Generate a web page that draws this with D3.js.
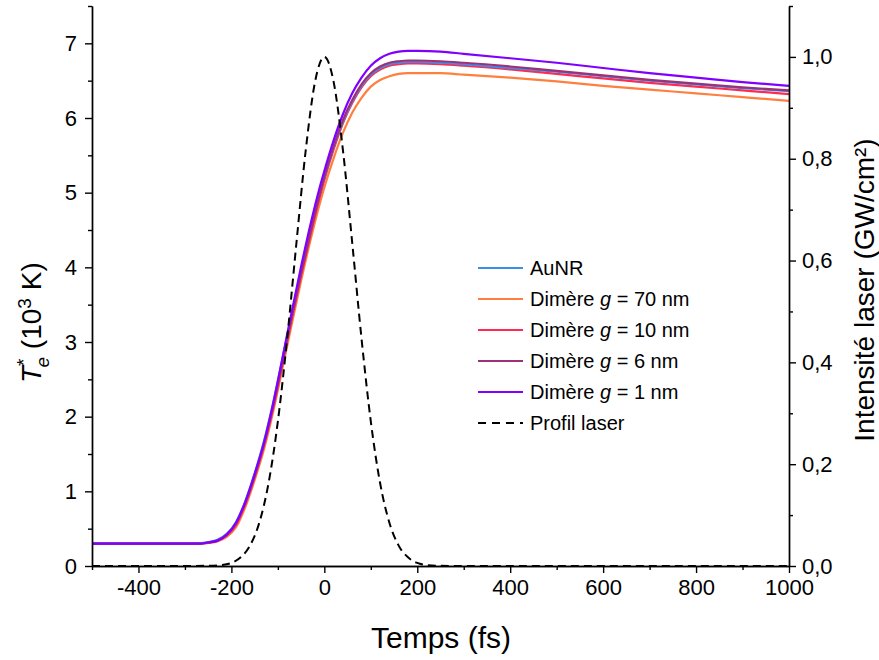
<!DOCTYPE html>
<html><head><meta charset="utf-8">
<script src="https://cdn.jsdelivr.net/npm/d3@7"></script>
<style>body{margin:0;background:#fff}svg{font-family:"Liberation Sans",Arial,sans-serif}</style>
</head><body>
<svg id="c" width="879" height="660"></svg>
<script>
const times = [-500,-300,-270,-250,-230,-210,-190,-170,-150,-130,-110,-90,-70,-50,-30,-10,0,20,40,60,80,100,120,140,160,180,200,250,300,400,500,600,700,800,900,1000];
const aunr  = [0.30,0.30,0.305,0.32,0.35,0.43,0.59,0.87,1.24,1.67,2.19,2.78,3.38,3.96,4.50,5.00,5.20,5.61,5.95,6.22,6.43,6.58,6.67,6.72,6.74,6.75,6.75,6.74,6.72,6.67,6.62,6.56,6.50,6.45,6.40,6.36];
const g70   = [0.30,0.30,0.30,0.31,0.33,0.39,0.52,0.79,1.15,1.56,2.07,2.65,3.24,3.82,4.36,4.85,5.07,5.46,5.80,6.07,6.27,6.42,6.51,6.56,6.59,6.60,6.60,6.60,6.58,6.54,6.49,6.43,6.38,6.33,6.28,6.23];
const g10   = [0.30,0.30,0.30,0.31,0.34,0.41,0.55,0.83,1.19,1.61,2.12,2.71,3.31,3.89,4.43,4.94,5.17,5.58,5.93,6.20,6.41,6.56,6.65,6.70,6.72,6.73,6.73,6.72,6.70,6.65,6.59,6.53,6.47,6.42,6.37,6.32];
const g6    = [0.30,0.30,0.30,0.315,0.34,0.42,0.57,0.85,1.21,1.63,2.15,2.74,3.34,3.92,4.47,4.98,5.21,5.62,5.97,6.24,6.45,6.60,6.69,6.74,6.76,6.77,6.77,6.76,6.74,6.69,6.63,6.57,6.51,6.46,6.41,6.37];
const g1    = [0.30,0.30,0.30,0.315,0.34,0.42,0.58,0.86,1.23,1.65,2.18,2.79,3.41,4.01,4.57,5.07,5.29,5.70,6.05,6.33,6.54,6.70,6.80,6.86,6.89,6.90,6.90,6.89,6.86,6.80,6.74,6.67,6.60,6.54,6.48,6.43];

const laserTimes = [-500,-300,-250,-220,-200,-180,-160,-140,-120,-100,-80,-60,-40,-20,0,20,40,60,80,100,120,140,160,180,200,220,250,300,1000];
const laserVals  = [0,0,0.0004,0.002,0.006,0.017,0.040,0.085,0.163,0.284,0.447,0.635,0.817,0.951,1.000,0.951,0.817,0.635,0.447,0.284,0.163,0.085,0.040,0.017,0.006,0.002,0.0004,0,0];

const xTicks = [-400,-200,0,200,400,600,800,1000];
const xMinor = [-500,-300,-100,100,300,500,700,900];
const yTicks = [0,1,2,3,4,5,6,7];
const yMinor = [0.5,1.5,2.5,3.5,4.5,5.5,6.5,7.5];
const rTicks = [0,0.2,0.4,0.6,0.8,1.0];
const rMinor = [0.1,0.3,0.5,0.7,0.9,1.1];

const seriesNames = ["AuNR","Dimère g = 70 nm","Dimère g = 10 nm","Dimère g = 6 nm","Dimère g = 1 nm"];
const seriesData = [aunr,g70,g10,g6,g1];
const colors = ["#3a8eea","#ff7f3f","#ff2a52","#9e3176","#8000ff"];
const drawOrder = [1,2,0,3,4];

const L=92,R=789,T=6,B=566;
const svg=d3.select("#c");
const x=d3.scaleLinear().domain([-500,1000]).range([L,R]);
const y=d3.scaleLinear().domain([0,7.5]).range([B,T]);
const y2=d3.scaleLinear().domain([0,1.1]).range([B,T]);

const fs=22;
function styleAxis(g){g.selectAll("path").attr("stroke","#000").attr("stroke-width",1.4);
 g.selectAll("line").attr("stroke","#000").attr("stroke-width",1.4);
 g.selectAll("text").attr("font-size",fs).attr("fill","#000").attr("font-family","Liberation Sans, Arial, sans-serif");}

// lines
const line=d3.line().x((d,i)=>x(times[i])).y(d=>y(d)).curve(d3.curveMonotoneX);
const gl=svg.append("g");
drawOrder.forEach(k=>{
  gl.append("path").datum(seriesData[k]).attr("d",line).attr("fill","none")
   .attr("stroke",colors[k]).attr("stroke-width",2.2);
});
const lline=d3.line().x((d,i)=>x(laserTimes[i])).y(d=>y2(d)).curve(d3.curveMonotoneX);
svg.append("path").datum(laserVals).attr("d",lline).attr("fill","none")
  .attr("stroke","#000").attr("stroke-width",2).attr("stroke-dasharray","8,5");

// axes
const gx=svg.append("g").attr("transform",`translate(0,${B})`)
  .call(d3.axisBottom(x).tickValues(xTicks).tickSize(7).tickSizeOuter(0).tickPadding(6).tickFormat(d3.format("d")));
styleAxis(gx);
gx.selectAll("text").text(d=>String(d));
const gxm=svg.append("g").attr("transform",`translate(0,${B})`)
  .call(d3.axisBottom(x).tickValues(xMinor).tickSize(4).tickSizeOuter(0).tickFormat(""));
styleAxis(gxm);

const gy=svg.append("g").attr("transform",`translate(${L},0)`)
  .call(d3.axisLeft(y).tickValues(yTicks).tickSize(7).tickSizeOuter(0).tickPadding(8));
styleAxis(gy);
const gym=svg.append("g").attr("transform",`translate(${L},0)`)
  .call(d3.axisLeft(y).tickValues(yMinor).tickSize(4).tickSizeOuter(0).tickFormat(""));
styleAxis(gym);

const gr=svg.append("g").attr("transform",`translate(${R},0)`)
  .call(d3.axisRight(y2).tickValues(rTicks).tickSize(7).tickSizeOuter(0).tickPadding(6)
  .tickFormat(d=>d3.format(".1f")(d).replace(".",",")));
styleAxis(gr);
const grm=svg.append("g").attr("transform",`translate(${R},0)`)
  .call(d3.axisRight(y2).tickValues(rMinor).tickSize(4).tickSizeOuter(0).tickFormat(""));
styleAxis(grm);

// axis titles
svg.append("text").attr("x",441).attr("y",648).attr("text-anchor","middle")
  .attr("font-size",30).text("Temps (fs)");
const yl=svg.append("text").attr("transform","translate(41,383) rotate(-90)")
  .attr("text-anchor","start").attr("font-size",28);
yl.append("tspan").attr("font-style","italic").text("T");
yl.append("tspan").attr("font-size",19).attr("dy",-11).text("*");
yl.append("tspan").attr("font-size",19).attr("font-style","italic").attr("dx",-9).attr("dy",19).text("e");
yl.append("tspan").attr("dy",-8).text(" (10");
yl.append("tspan").attr("font-size",19).attr("dy",-10).text("3");
yl.append("tspan").attr("dy",10).text(" K)");

svg.append("text").attr("transform","translate(874,290) rotate(-90)")
  .attr("text-anchor","middle").attr("font-size",28).text("Intensité laser (GW/cm²)");

// legend
const lx=478,ly=268,dy=31;
const leg=svg.append("g");
seriesNames.forEach((n,i)=>{
  const yy=ly+i*dy;
  leg.append("line").attr("x1",lx).attr("x2",lx+45).attr("y1",yy).attr("y2",yy)
    .attr("stroke",colors[i]).attr("stroke-width",2.2);
  const t=leg.append("text").attr("x",lx+52).attr("y",yy+7).attr("font-size",20);
  if(n.includes(" g ")){
    const parts=n.split(" g ");
    t.append("tspan").text(parts[0]+" ");
    t.append("tspan").attr("font-style","italic").text("g");
    t.append("tspan").text(" "+parts[1]);
  } else t.text(n);
});
const yy=ly+5*dy;
leg.append("line").attr("x1",lx).attr("x2",lx+45).attr("y1",yy).attr("y2",yy)
  .attr("stroke","#000").attr("stroke-width",2).attr("stroke-dasharray","8,6");
leg.append("text").attr("x",lx+52).attr("y",yy+7).attr("font-size",20).text("Profil laser");
</script>
</body></html>
